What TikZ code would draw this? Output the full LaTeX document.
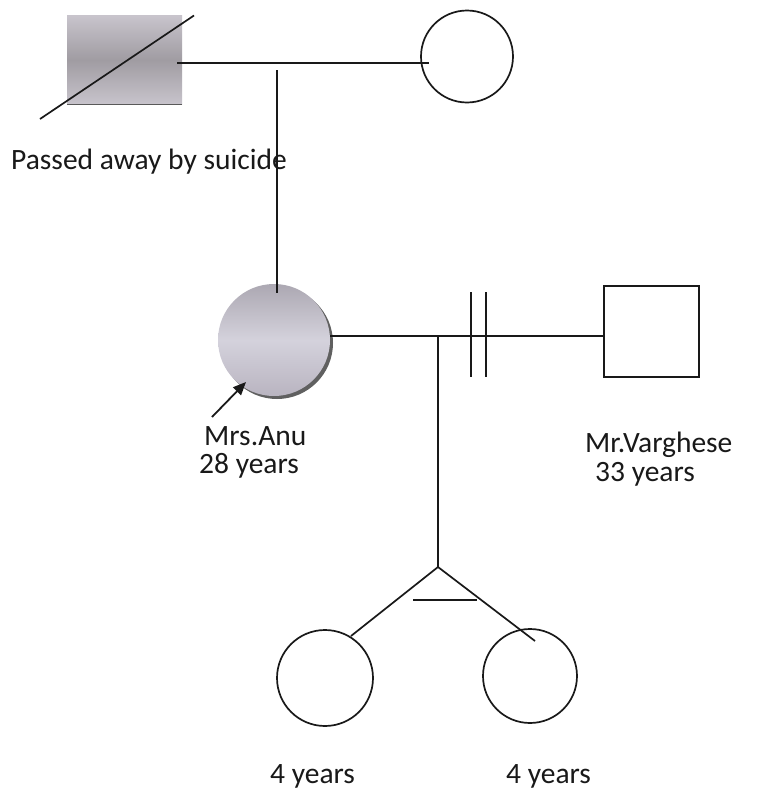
\documentclass[tikz,border=0pt]{standalone}
\usepackage{fontspec}
\setmainfont{Carlito}
\usetikzlibrary{arrows.meta}
\definecolor{ink}{RGB}{25,25,25}
\definecolor{lavA}{RGB}{172,168,178}
\definecolor{lavB}{RGB}{212,210,220}
\definecolor{lavC}{RGB}{185,180,192}
\definecolor{sqA}{RGB}{200,196,204}
\definecolor{sqB}{RGB}{160,156,162}
\begin{document}
\begin{tikzpicture}[x=1pt,y=-1pt,
  line/.style={draw=ink,line width=1.7pt},
  lbl/.style={anchor=base west,inner sep=0pt,text=ink,font=\fontsize{29.5}{33}\selectfont},
  femalebox/.style={circle,draw=ink,line width=1.7pt,minimum size=#1,inner sep=0pt},
]
\useasboundingbox (0,0) rectangle (766,798);
\fill[white] (0,0) rectangle (766,798);
% top generation
\node[rectangle,minimum width=115pt,minimum height=89pt,inner sep=0pt,
  top color=sqA,bottom color=sqA,middle color=sqB] (gf) at (124.5,60) {};
\draw[gray!70!black,line width=1.4pt] (gf.south west) -- (gf.south east);
\node[femalebox=92pt] (gm) at (467,56.5) {};
\coordinate (d1) at (40,119);
\coordinate (d2) at (194,15.5);
\draw[line] (d1) -- (d2);
\coordinate (m1l) at (177,63);
\coordinate (m1r) at (429,63);
\draw[line] (m1l) -- (m1r);
\coordinate (v1t) at (277,70);
\coordinate (v1b) at (277,293);
% Anu
\fill[gray!75!black] (277,343) circle (56);
\node[circle,minimum size=112pt,inner sep=0pt,top color=lavA,bottom color=lavC,middle color=lavB] (anu) at (274,340) {};
% husband
\node[rectangle,draw=ink,line width=1.7pt,minimum width=95pt,minimum height=91pt,inner sep=0pt] (hus) at (651.5,331.5) {};
\coordinate (m2l) at (330,336);
\draw[line] (m2l) -- (hus.west |- m2l);
\draw[line] (471,292) -- (471,377);
\draw[line] (486,292) -- (486,377);
% children
\coordinate (cj) at (438,336);
\coordinate (apex) at (438,567);
\draw[line] (cj) -- (apex);
\node[femalebox=96pt] (c1) at (325,678) {};
\node[femalebox=94pt] (c2) at (530,676) {};
\coordinate (t1) at (351,636);
\coordinate (t2) at (535,641);
\draw[line] (apex) -- (t1);
\draw[line] (apex) -- (t2);
\draw[line] (413,600) -- (477,600);
% arrow
\coordinate (ar0) at (212,417);
\draw[ink,line width=1.8pt,-{Triangle[length=13pt,width=11pt]}] (ar0) -- (246,382);
% labels
\node[lbl] (t0) at (11,169) {Passed away by suicide};
\draw[line] (v1t) -- (v1b);
\node[lbl] (la1) at (204,445) {Mrs.Anu};
\node[lbl] (la2) at (199,473) {28 years};
\node[lbl] (lv1) at (585,452) {Mr.Varghese};
\node[lbl] (lv2) at (595,481) {33 years};
\node[lbl] (lc1) at (270,783) {4 years};
\node[lbl] (lc2) at (506,783) {4 years};
\end{tikzpicture}
\end{document}
